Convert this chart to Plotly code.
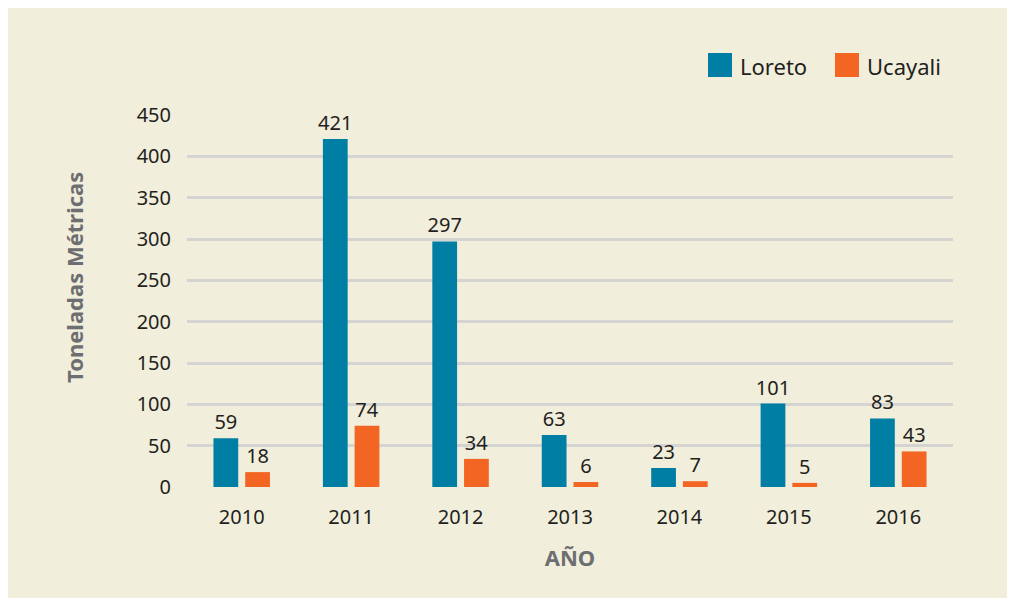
import plotly.graph_objects as go

years = ["2010", "2011", "2012", "2013", "2014", "2015", "2016"]
loreto = [59, 421, 297, 63, 23, 101, 83]
ucayali = [18, 74, 34, 6, 7, 5, 43]
series_names = ["Loreto", "Ucayali"]
y_ticks = [0, 50, 100, 150, 200, 250, 300, 350, 400, 450]

BG = "#f1eedb"
C_LOR = "#007ea3"
C_UCA = "#f26522"
TXT = "#231f20"
GRAY = "#6d6e71"
FONT = "Noto Sans"

fig = go.Figure()
for name, vals, col in [(series_names[0], loreto, C_LOR), (series_names[1], ucayali, C_UCA)]:
    fig.add_trace(go.Bar(
        x=years, y=vals, name=name, marker=dict(color=col, line=dict(width=0)),
        text=[str(v) for v in vals], textposition="outside", cliponaxis=False,
        constraintext="none",
        textfont=dict(family=FONT, size=20, color=TXT), showlegend=False,
    ))

# page offset of the plot div (browser body margin)
OFF = 8
W, H = 1015, 598
L, R, T, B = 179, 70, 107, 119
pw, ph = W - L - R, H - T - B
def px(x):
    return (x - OFF - L) / pw
def py(y):
    return 1 - (y - OFF - T) / ph

leg = [(series_names[0], C_LOR, 708), (series_names[1], C_UCA, 835)]
for name, col, x0 in leg:
    fig.add_shape(type="rect", xref="paper", yref="paper",
                  x0=px(x0), x1=px(x0 + 24), y0=py(77), y1=py(53),
                  fillcolor=col, line=dict(width=0))
    fig.add_annotation(xref="paper", yref="paper", x=px(x0 + 30), y=py(66),
                       text=name, showarrow=False, xanchor="left", yanchor="middle",
                       font=dict(family=FONT, size=22, color=TXT))

# y-axis title
fig.add_annotation(xref="paper", yref="paper", x=px(74), y=py(278),
                   text="<b>Toneladas Métricas</b>", textangle=-90, showarrow=False,
                   xanchor="center", yanchor="middle",
                   font=dict(family=FONT, size=22, color=GRAY))

fig.update_layout(
    width=W, height=H,
    margin=dict(l=L, r=R, t=T, b=B, pad=0),
    paper_bgcolor=BG, plot_bgcolor=BG,
    barmode="group", bargap=0.42, bargroupgap=0.22,
    font=dict(family=FONT, color=TXT),
    xaxis=dict(
        showgrid=False, zeroline=False, showline=False,
        tickfont=dict(family=FONT, size=20, color=TXT),
        ticks="outside", ticklen=12, tickcolor="rgba(0,0,0,0)",
        title=dict(text="<b>AÑO</b>", font=dict(family=FONT, size=22, color=GRAY), standoff=21),
    ),
    yaxis=dict(
        range=[0, 450], tickvals=y_ticks,
        showgrid=True, gridcolor="#d4d4d2", gridwidth=3, zeroline=False, showline=False,
        tickfont=dict(family=FONT, size=20, color=TXT),
        ticks="outside", ticklen=11, tickcolor="rgba(0,0,0,0)",
    ),
)

fig.write_html("out.html")
